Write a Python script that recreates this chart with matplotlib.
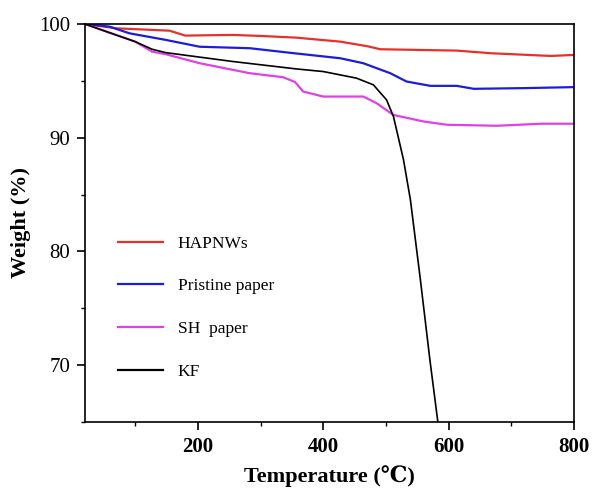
import matplotlib.pyplot as plt
from matplotlib.ticker import MultipleLocator

# TGA curves, weight (%) vs temperature (C)
temp_hap = [20, 70, 120, 155, 180, 255, 300, 357, 427, 470, 491, 613, 667, 763, 800]
wt_hap = [100, 99.62, 99.5, 99.41, 98.98, 99.04, 98.95, 98.8, 98.45, 98.05, 97.78, 97.66, 97.43, 97.19, 97.28]

temp_pristine = [20, 59, 91, 149, 203, 283, 350, 427, 464, 507, 533, 571, 613, 640, 720, 800]
wt_pristine = [100, 99.77, 99.18, 98.6, 98.0, 97.87, 97.45, 96.99, 96.55, 95.67, 94.94, 94.56, 94.56, 94.3, 94.36, 94.45]

temp_sh = [20, 47, 100, 127, 149, 203, 283, 336, 355, 368, 400, 464, 485, 512, 560, 597, 677, 747, 800]
wt_sh = [100, 99.47, 98.45, 97.57, 97.34, 96.55, 95.67, 95.32, 94.9, 94.06, 93.62, 93.62, 93.04, 92.0, 91.43, 91.14, 91.05, 91.23, 91.23]

temp_kf = [20, 47, 100, 127, 149, 256, 357, 400, 453, 480, 501, 512, 528, 539, 555, 570, 584]
wt_kf = [100, 99.47, 98.45, 97.78, 97.48, 96.7, 96.05, 95.82, 95.24, 94.65, 93.33, 91.87, 88.07, 84.56, 77.5, 70.53, 64.5]

serif = ['Liberation Serif', 'DejaVu Serif', 'DejaVu Sans']

fig = plt.figure(figsize=(5.92, 4.93), dpi=100)
ax = fig.add_axes([85 / 592, 1 - 422 / 493, (574 - 85) / 592, (422 - 24) / 493])

ax.plot(temp_hap, wt_hap, color='#e8302a', lw=1.6, label='HAPNWs')
ax.plot(temp_pristine, wt_pristine, color='#1c1cdc', lw=1.6, label='Pristine paper')
ax.plot(temp_sh, wt_sh, color='#e040e6', lw=1.6, label='SH  paper')
ax.plot(temp_kf, wt_kf, color='black', lw=1.2, label='KF')

ax.set_xlim(20, 800)
ax.set_ylim(65, 100)
ax.xaxis.set_major_locator(MultipleLocator(200))
ax.xaxis.set_minor_locator(MultipleLocator(100))
ax.yaxis.set_major_locator(MultipleLocator(10))
ax.yaxis.set_minor_locator(MultipleLocator(5))
ax.tick_params(which='major', length=5.5, width=1.2, direction='out', pad=5)
ax.tick_params(which='minor', length=3, width=1.0, direction='out')
for s in ax.spines.values():
    s.set_linewidth(1.2)

for lbl in ax.get_xticklabels():
    lbl.set_family(serif)
    lbl.set_fontsize(15)
    lbl.set_fontweight('bold')
for lbl in ax.get_yticklabels():
    lbl.set_family(serif)
    lbl.set_fontsize(15)

ax.set_xlabel('Temperature (\u2103)', family=serif, fontsize=16, fontweight='bold', labelpad=6)
ax.set_ylabel('Weight (%)', family=serif, fontsize=16, fontweight='bold', labelpad=6)

leg = ax.legend(loc='upper left', bbox_to_anchor=(0.035, 0.508), frameon=False,
                handlelength=2.6, handletextpad=0.86, labelspacing=1.53,
                prop={'family': serif, 'size': 12.5})
for h in leg.get_lines():
    h.set_linewidth(1.6)

fig.savefig('out.png', dpi=100)
